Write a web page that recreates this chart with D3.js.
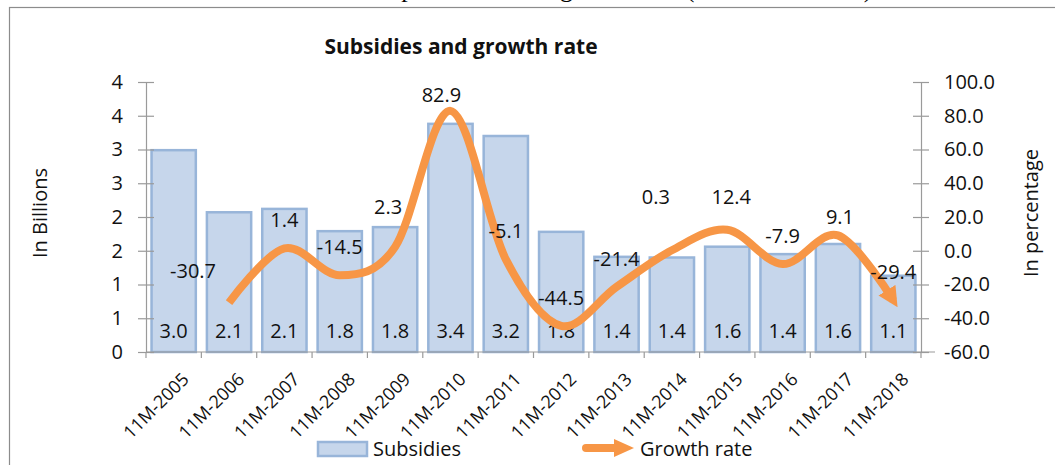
<!DOCTYPE html>
<html>
<head>
<meta charset="utf-8">
<script src="https://cdn.jsdelivr.net/npm/d3@7"></script>
<style>
  body { margin: 0; background: #fff; }
  svg { display: block; font-family: "Open Sans", Lato, sans-serif; }
</style>
</head>
<body>
<div id="chart"></div>
<script>
//Data
var years = ["11M-2005", "11M-2006", "11M-2007", "11M-2008", "11M-2009", "11M-2010", "11M-2011",
    "11M-2012", "11M-2013", "11M-2014", "11M-2015", "11M-2016", "11M-2017", "11M-2018"];
// bar heights as drawn, and the labels printed inside them
var subsidies = [2.99, 2.07, 2.12, 1.79, 1.85, 3.38, 3.2, 1.78, 1.41, 1.4, 1.56, 1.45, 1.6, 1.13];
var subsidyLabels = ["3.0", "2.1", "2.1", "1.8", "1.8", "3.4", "3.2", "1.8", "1.4", "1.4", "1.6", "1.4", "1.6", "1.1"];
var growth = [null, -30.7, 1.4, -14.5, 2.3, 82.9, -5.1, -44.5, -21.4, 0.3, 12.4, -7.9, 9.1, -29.4];
var leftTicks = [0, 0.5, 1, 1.5, 2, 2.5, 3, 3.5, 4];
var leftTickLabels = ["0", "1", "1", "2", "2", "3", "3", "4", "4"];
var rightTicks = [-60, -40, -20, 0, 20, 40, 60, 80, 100];

var barFill = "#c6d6eb";
var barStroke = "#98b5d9";
var lineColor = "#f79646";

var W = 1055, H = 465;
var plot = { left: 146, right: 921, top: 82, bottom: 352 };

// plain hyphen for negatives, like the original
var fmt = d3.formatLocale({ decimal: ".", thousands: ",", grouping: [3], currency: ["", ""], minus: "-" }).format(".1f");

var svg = d3.select("#chart").append("svg")
    .attr("width", W)
    .attr("height", H);

// caption, only its lower edge shows above the frame
svg.append("text")
    .attr("x", 160)
    .attr("y", -3)
    .style("font-family", "'Liberation Serif', serif")
    .style("font-size", "26px")
    .attr("fill", "#000")
    .text("Chart 3.5: Subsidies expenditures and growth rate (11M-2005-2018)");

// frame
svg.append("rect")
    .attr("x", 9.5).attr("y", 7.5)
    .attr("width", W).attr("height", H)
    .attr("fill", "#fff")
    .attr("stroke", "#8c8c8c")
    .attr("stroke-width", 1.2);

//Scales
var x = d3.scaleBand().domain(years)
    .range([plot.left, plot.right])
    .paddingInner(0.2).paddingOuter(0.1);
var yL = d3.scaleLinear().domain([0, 4]).range([plot.bottom, plot.top]);
var yR = d3.scaleLinear().domain([-60, 100]).range([plot.bottom, plot.top]);

// title
svg.append("text")
    .attr("x", 461).attr("y", 54)
    .attr("text-anchor", "middle")
    .style("font-size", "21px")
    .style("font-weight", "bold")
    .attr("fill", "#111")
    .text("Subsidies and growth rate");

//Bars
svg.append("g").selectAll("rect")
    .data(subsidies)
    .enter()
    .append("rect")
    .attr("x", function (d, i) { return x(years[i]); })
    .attr("y", function (d) { return yL(d); })
    .attr("width", x.bandwidth())
    .attr("height", function (d) { return yL(0) - yL(d); })
    .attr("fill", barFill)
    .attr("stroke", barStroke)
    .attr("stroke-width", 2.5);

svg.append("g").selectAll("text")
    .data(subsidyLabels)
    .enter()
    .append("text")
    .attr("x", function (d, i) { return x(years[i]) + x.bandwidth() / 2; })
    .attr("y", yL(0) - 14)
    .attr("text-anchor", "middle")
    .style("font-size", "20px")
    .attr("fill", "#111")
    .text(function (d) { return d; });

//Axes
var axisColor = "#9a9a9a";

var gL = svg.append("g")
    .attr("transform", "translate(" + plot.left + ",0)")
    .call(d3.axisLeft(yL).tickValues(leftTicks).tickSize(8).tickSizeOuter(0)
        .tickFormat(function (d, i) { return leftTickLabels[i]; }));
gL.selectAll(".tick line").attr("x1", 8);
gL.selectAll(".tick text").attr("x", -23);

var gR = svg.append("g")
    .attr("transform", "translate(" + plot.right + ",0)")
    .call(d3.axisRight(yR).tickValues(rightTicks).tickSize(8).tickSizeOuter(0)
        .tickFormat(fmt));
gR.selectAll(".tick line").attr("x1", -8);
gR.selectAll(".tick text").attr("x", 23);

[gL, gR].forEach(function (g) {
    g.select(".domain").attr("stroke", axisColor).attr("stroke-width", 1.2);
    g.selectAll(".tick line").attr("stroke", axisColor).attr("stroke-width", 1.2);
    g.selectAll(".tick text")
        .style("font-size", "20px")
        .style("font-family", "'Open Sans', sans-serif")
        .attr("fill", "#111");
});

// category axis: ticks sit between bars
var gX = svg.append("g");
gX.append("line")
    .attr("x1", plot.left).attr("x2", plot.right + 14)
    .attr("y1", plot.bottom).attr("y2", plot.bottom)
    .attr("stroke", axisColor).attr("stroke-width", 1.2);
var bounds = years.map(function (d) { return x(d) - x.step() * 0.1; });
bounds.push(plot.right);
gX.selectAll(".xt")
    .data(bounds)
    .enter()
    .append("line")
    .attr("x1", function (d) { return d; })
    .attr("x2", function (d) { return d; })
    .attr("y1", plot.bottom)
    .attr("y2", plot.bottom + 6)
    .attr("stroke", axisColor).attr("stroke-width", 1.2);

gX.selectAll(".xl")
    .data(years)
    .enter()
    .append("text")
    .attr("transform", function (d) {
        return "translate(" + (x(d) + x.bandwidth() / 2 + 12) + "," + (plot.bottom + 24) + ") rotate(-45)";
    })
    .attr("text-anchor", "end")
    .attr("dy", "0.35em")
    .style("font-size", "18px")
    .attr("fill", "#111")
    .text(function (d) { return d; });

// axis titles
svg.append("text")
    .attr("transform", "translate(47,213) rotate(-90)")
    .attr("text-anchor", "middle")
    .style("font-size", "20px")
    .attr("fill", "#111")
    .text("In Billions");
svg.append("text")
    .attr("transform", "translate(1038,213) rotate(-90)")
    .attr("text-anchor", "middle")
    .style("font-size", "20px")
    .attr("fill", "#111")
    .text("In percentage");

//Growth line
var defs = svg.append("defs");
defs.append("marker")
    .attr("id", "arrow")
    .attr("markerUnits", "userSpaceOnUse")
    .attr("viewBox", "0 0 10 10")
    .attr("refX", 6).attr("refY", 5)
    .attr("markerWidth", 20).attr("markerHeight", 20)
    .attr("orient", "auto")
    .append("path")
    .attr("d", "M0,0 L10,5 L0,10 Z")
    .attr("fill", lineColor);

var pts = growth.map(function (d, i) { return { year: years[i], v: d }; })
    .filter(function (d) { return d.v !== null; });

svg.append("path")
    .datum(pts)
    .attr("fill", "none")
    .attr("stroke", lineColor)
    .attr("stroke-width", 8)
    .attr("stroke-linejoin", "round")
    .attr("marker-end", "url(#arrow)")
    .attr("d", d3.line()
        .curve(d3.curveCatmullRom.alpha(0))
        .x(function (d) { return x(d.year) + x.bandwidth() / 2; })
        .y(function (d) { return yR(d.v); }));

// growth labels, Excel placed a few of them by hand
var nudge = {
    "11M-2006": [-36, -32], "11M-2009": [-7, -40], "11M-2010": [-9, -16],
    "11M-2014": [-16, -53], "11M-2015": [4, -33], "11M-2017": [2, -18]
};
svg.append("g").selectAll("text")
    .data(pts)
    .enter()
    .append("text")
    .attr("x", function (d) { return x(d.year) + x.bandwidth() / 2 + (nudge[d.year] ? nudge[d.year][0] : 0); })
    .attr("y", function (d) { return yR(d.v) + (nudge[d.year] ? nudge[d.year][1] : -28); })
    .attr("dy", "0.35em")
    .attr("text-anchor", "middle")
    .style("font-size", "20px")
    .attr("fill", "#111")
    .text(function (d) { return fmt(d.v); });

//Legend
var leg = svg.append("g");
leg.append("rect")
    .attr("x", 318).attr("y", 442)
    .attr("width", 49).attr("height", 14)
    .attr("fill", barFill)
    .attr("stroke", barStroke)
    .attr("stroke-width", 2.5);
leg.append("text")
    .attr("x", 373).attr("y", 449)
    .attr("dy", "0.35em")
    .style("font-size", "20px")
    .attr("fill", "#111")
    .text("Subsidies");
leg.append("line")
    .attr("x1", 586).attr("x2", 618)
    .attr("y1", 448).attr("y2", 448)
    .attr("stroke", lineColor)
    .attr("stroke-width", 8)
    .attr("stroke-linecap", "round");
leg.append("path")
    .attr("d", "M614,439 L634,448 L614,457 Z")
    .attr("fill", lineColor);
leg.append("text")
    .attr("x", 640).attr("y", 449)
    .attr("dy", "0.35em")
    .style("font-size", "20px")
    .attr("fill", "#111")
    .text("Growth rate");
</script>
</body>
</html>
